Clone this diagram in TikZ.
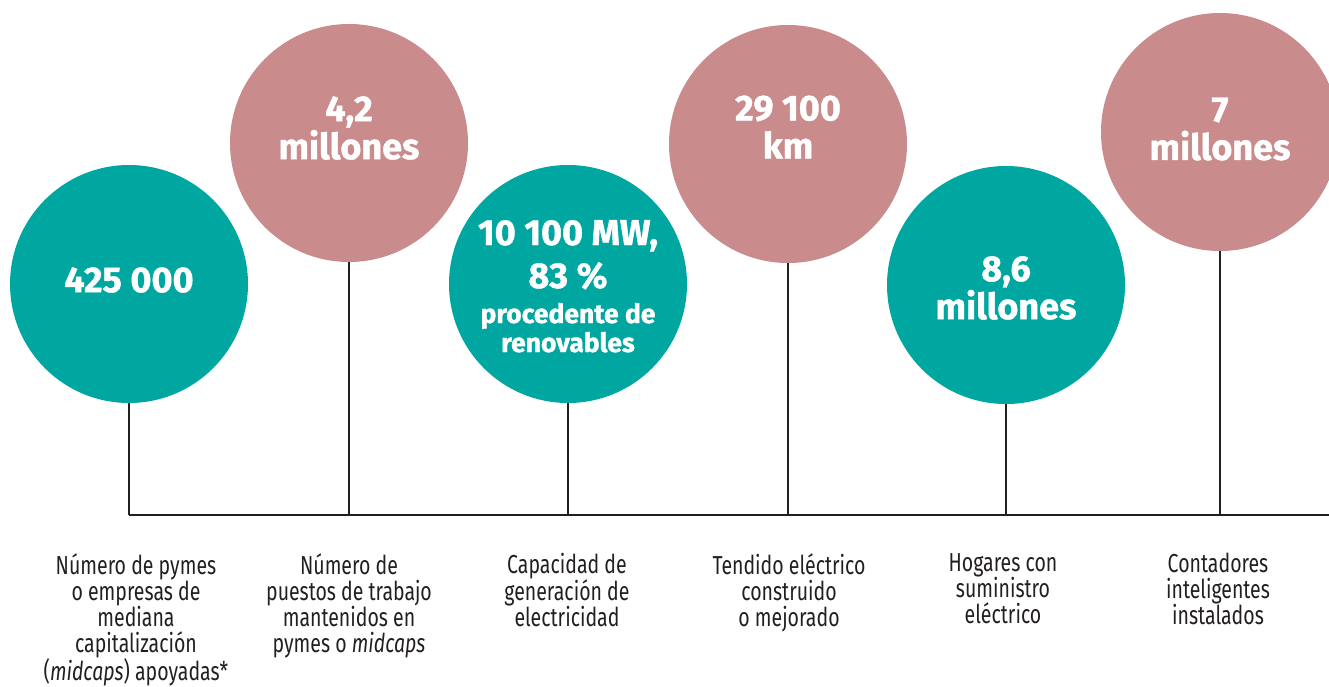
\documentclass[tikz,border=0pt]{standalone}
\usepackage{fontspec}
\setmainfont{Fira Sans}
\newfontfamily\labelfont[FakeStretch=0.75]{Fira Sans}
\newfontfamily\numfont[FakeBold=1.2]{Fira Sans}
\definecolor{teal}{RGB}{0,167,161}
\definecolor{rose}{RGB}{201,139,140}
\definecolor{ink}{RGB}{35,31,32}
\tikzset{
  bubble/.style={circle, minimum size=238pt, inner sep=0pt, draw=none},
  tealbubble/.style={bubble, fill=teal},
  rosebubble/.style={bubble, fill=rose},
  bigtxt/.style={text=white, align=center, inner sep=0pt, font=\numfont\bfseries\fontsize{36}{38}\selectfont},
  midtxt/.style={text=white, inner sep=0pt, anchor=base, font=\numfont\bfseries\fontsize{26.5}{30}\selectfont},
  lbl/.style={text=ink, align=center, inner sep=0pt, anchor=north, font=\labelfont\fontsize{26}{26}\selectfont},
  conn/.style={draw=ink, line width=1.3pt}
}
\begin{document}
\begin{tikzpicture}[x=1pt,y=-1pt]
\useasboundingbox (0,0) rectangle (1329,686);
% circles
\node[tealbubble] (c1) at (129,284) {};
\node[rosebubble] (c2) at (349,143) {};
\node[tealbubble] (c3) at (568,284) {};
\node[rosebubble] (c4) at (788,144) {};
\node[tealbubble] (c5) at (1006,285) {};
\node[rosebubble] (c6) at (1220,132) {};
% texts in circles
\node[bigtxt] (t1) at (129,280) {425 000};
\node[bigtxt] (t2) at (349,128) {4,2\\millones};
\node[bigtxt, anchor=base] (t3a) at (568,245) {10 100 MW,};
\node[bigtxt, anchor=base] (t3b) at (568,288) {83 \%};
\node[midtxt] (t3c) at (568,323) {procedente de};
\node[midtxt] (t3d) at (568,352) {renovables};
\node[bigtxt] (t4) at (788,127) {29 100\\km};
\node[bigtxt] (t5) at (1006,288) {8,6\\millones};
\node[bigtxt] (t6) at (1220,129) {7\\millones};
% baseline coordinates
\coordinate (b1) at (129,515);
\coordinate (b2) at (349,515);
\coordinate (b3) at (568,515);
\coordinate (b4) at (788,515);
\coordinate (b5) at (1006,515);
\coordinate (b6) at (1220,515);
\coordinate (bend) at (1329,515);
% connectors
\draw[conn] (c1.south) -- (b1);
\draw[conn] (c2.south) -- (b2);
\draw[conn] (c3.south) -- (b3);
\draw[conn] (c4.south) -- (b4);
\draw[conn] (c5.south) -- (b5);
\draw[conn] (c6.south) -- (b6);
\draw[conn] (b1) -- (bend);
% labels
\node[lbl] (l1) at (136,553) {Número de pymes\\o empresas de\\mediana\\capitalización\\(\textit{midcaps}) apoyadas*};
\node[lbl] (l2) at (349,553) {Número de\\puestos de trabajo\\mantenidos en\\pymes o \textit{midcaps}};
\node[lbl] (l3) at (567,553) {Capacidad de\\generación de\\electricidad};
\node[lbl] (l4) at (789,553) {Tendido eléctrico\\construido\\o mejorado};
\node[lbl] (l5) at (1003,553) {Hogares con\\suministro\\eléctrico};
\node[lbl] (l6) at (1218,553) {Contadores\\inteligentes\\instalados};
\end{tikzpicture}
\end{document}
